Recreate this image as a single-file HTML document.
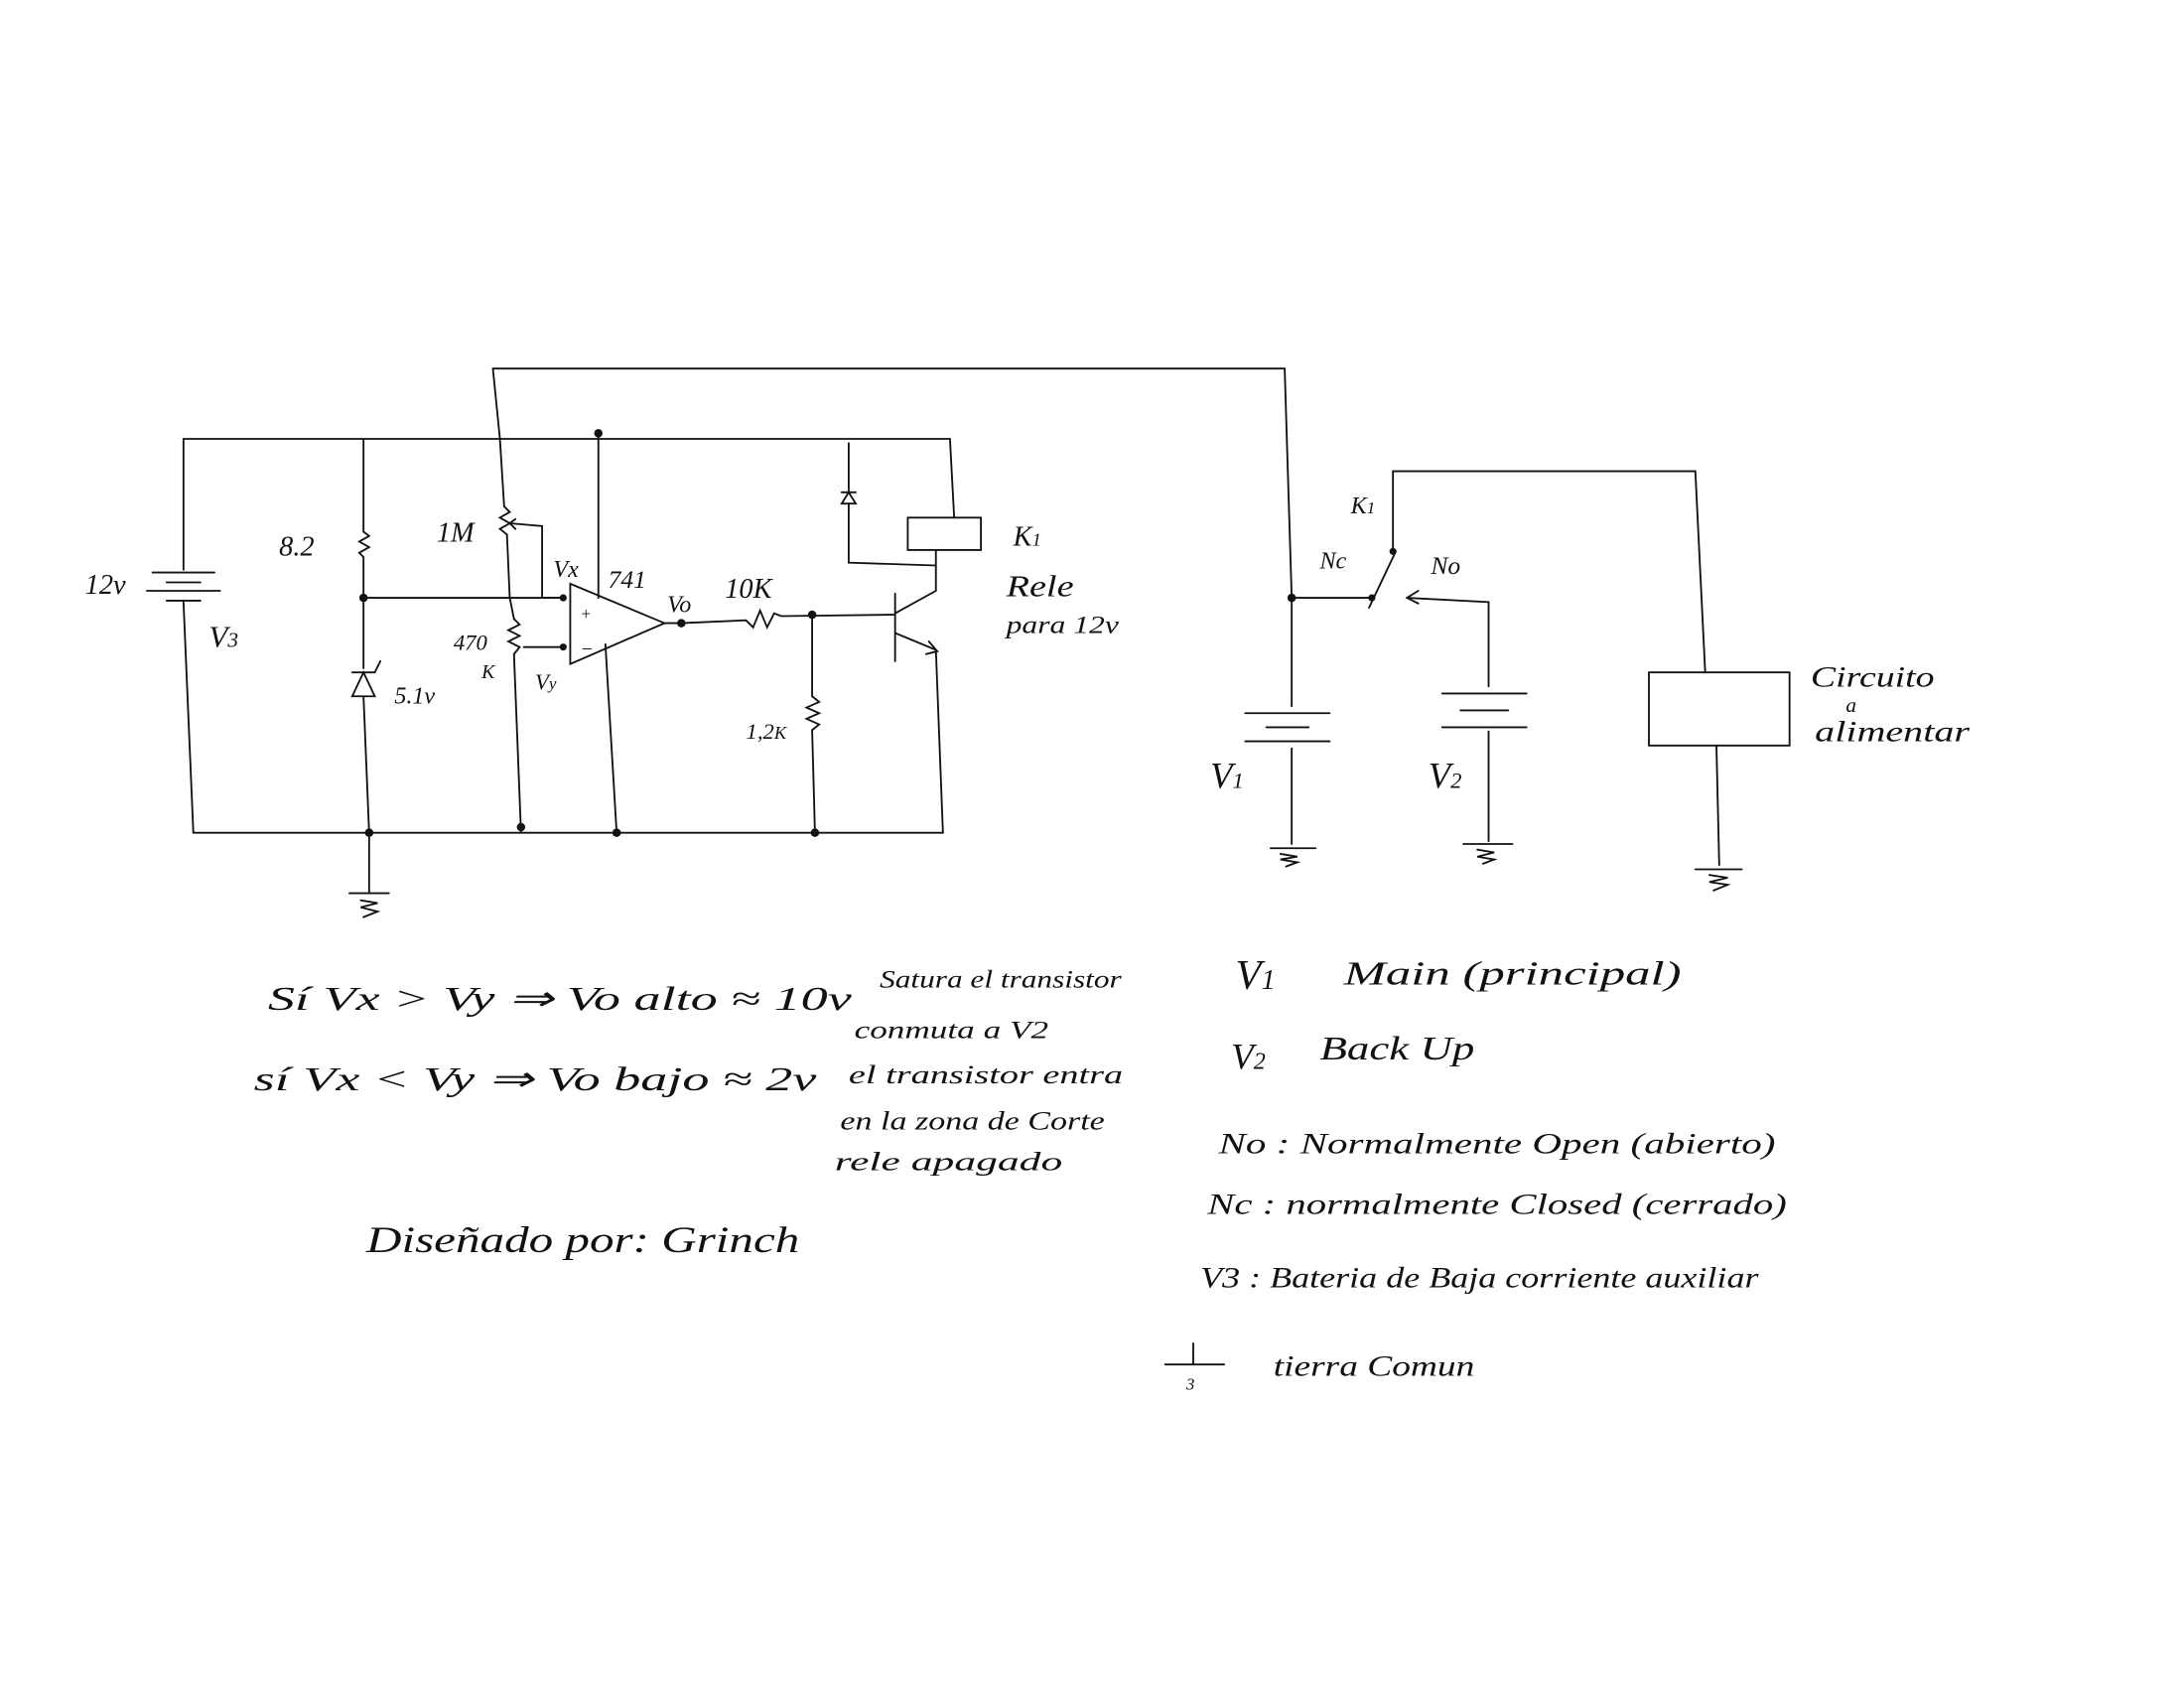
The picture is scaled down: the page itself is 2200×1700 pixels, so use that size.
<!DOCTYPE html>
<html><head><meta charset="utf-8"><style>
html,body{margin:0;padding:0;background:#fff}
svg{display:block}
text{font-family:"Liberation Serif",serif;font-style:italic;fill:#111}
</style></head><body>
<svg width="2200" height="1700" viewBox="0 0 1552 1200" xmlns="http://www.w3.org/2000/svg">
<g stroke="#111" stroke-width="1.3" fill="none" stroke-linecap="round">
<polyline points="350,262 913,262 918,425"/>
<polyline points="130,312 675,312"/>
<polyline points="137,592 670,592"/>
<line x1="130" y1="312" x2="130" y2="405"/>
<line x1="130" y1="428" x2="137" y2="592"/>
<line x1="108" y1="407" x2="152" y2="407"/><line x1="118" y1="414" x2="142" y2="414"/>
<line x1="104" y1="420" x2="156" y2="420"/><line x1="118" y1="427" x2="142" y2="427"/>
<line x1="258" y1="312" x2="258" y2="378"/>
<polyline points="258,378 262,381 255,385 262,389 255,393 258,396"/>
<line x1="258" y1="396" x2="258" y2="475"/>
<polygon points="250,495 266,495 258,478"/><line x1="250" y1="478" x2="266" y2="478"/><line x1="266" y1="478" x2="270" y2="470"/>
<line x1="258" y1="495" x2="262" y2="592"/>
<line x1="258" y1="425" x2="400" y2="425"/>
<line x1="262" y1="592" x2="262" y2="635"/>
<line x1="248" y1="635" x2="276" y2="635"/>
<polyline points="256,640 268,642 256,645 268,648 258,652"/>
<polyline points="350,262 355,312 358,360"/>
<polyline points="358,360 362,364 355,368 362,372 355,376 360,380"/>
<polyline points="360,380 362,425 365,440"/>
<polyline points="362,372 385,374 385,425 400,425"/>
<polyline points="366,369 362,372 366,376"/>
<polyline points="365,440 369,444 361,448 369,452 361,456 369,460 365,465"/>
<line x1="365" y1="465" x2="370" y2="592"/>
<line x1="372" y1="460" x2="400" y2="460"/>
<polygon points="405,415 405,472 472,443"/>
<line x1="425" y1="308" x2="425" y2="425"/>
<line x1="430" y1="458" x2="438" y2="592"/>
<line x1="472" y1="443" x2="484" y2="443"/>
<polyline points="484,443 530,441 535,446 540,434 545,446 550,436 555,438 635,437"/>
<line x1="577" y1="437" x2="577" y2="495"/>
<polyline points="577,495 582,499 573,503 582,507 573,511 582,515 577,519"/>
<line x1="577" y1="519" x2="579" y2="592"/>
<line x1="636" y1="422" x2="636" y2="470"/>
<polyline points="636,436 665,420 665,405"/>
<polyline points="636,450 665,462 670,592"/>
<polyline points="660,456 666,463 658,465"/>
<line x1="675" y1="312" x2="678" y2="368"/>
<rect x="645" y="368" width="52" height="23"/>
<line x1="665" y1="391" x2="665" y2="405"/>
<polyline points="603,315 603,350"/>
<polygon points="598,358 608,358 603,350"/><line x1="598" y1="350" x2="608" y2="350"/>
<polyline points="603,358 603,400 665,402"/>
<line x1="918" y1="425" x2="918" y2="502"/>
<line x1="885" y1="507" x2="945" y2="507"/><line x1="900" y1="517" x2="930" y2="517"/><line x1="885" y1="527" x2="945" y2="527"/>
<line x1="918" y1="532" x2="918" y2="600"/>
<line x1="903" y1="603" x2="935" y2="603"/>
<polyline points="910,607 922,609 910,611 922,613 914,616"/>
<line x1="918" y1="425" x2="975" y2="425"/>
<line x1="973" y1="432" x2="992" y2="392"/>
<polyline points="990,392 990,335 1205,335 1212,478"/>
<rect x="1172" y="478" width="100" height="52"/>
<line x1="1220" y1="530" x2="1222" y2="615"/>
<line x1="1205" y1="618" x2="1238" y2="618"/>
<polyline points="1215,622 1228,624 1215,627 1228,629 1218,633"/>
<polyline points="1000,425 1058,428 1058,488"/>
<polyline points="1008,420 1000,425 1008,429"/>
<line x1="1025" y1="493" x2="1085" y2="493"/><line x1="1038" y1="505" x2="1072" y2="505"/><line x1="1025" y1="517" x2="1085" y2="517"/>
<line x1="1058" y1="520" x2="1058" y2="598"/>
<line x1="1040" y1="600" x2="1075" y2="600"/>
<polyline points="1050,604 1062,606 1050,609 1062,611 1054,614"/>
<line x1="848" y1="955" x2="848" y2="970"/><line x1="828" y1="970" x2="870" y2="970"/>
</g>
<g fill="#111">
<circle cx="425" cy="308" r="3"/><circle cx="258" cy="425" r="3"/><circle cx="262" cy="592" r="3"/>
<circle cx="370" cy="588" r="3"/><circle cx="438" cy="592" r="3"/><circle cx="577" cy="437" r="3"/>
<circle cx="579" cy="592" r="3"/><circle cx="484" cy="443" r="3"/><circle cx="400" cy="425" r="2.5"/>
<circle cx="400" cy="460" r="2.5"/><circle cx="918" cy="425" r="3"/><circle cx="975" cy="425" r="2.5"/><circle cx="990" cy="392" r="2.5"/>
</g>
<g lengthAdjust="spacingAndGlyphs">
<text x="60" y="422" font-size="20">12v</text>
<text x="148" y="460" font-size="22">V<tspan font-size="15">3</tspan></text>
<text x="198" y="395" font-size="20">8.2</text>
<text x="280" y="500" font-size="17">5.1v</text>
<text x="310" y="385" font-size="20">1M</text>
<text x="322" y="462" font-size="16">470</text>
<text x="342" y="482" font-size="14">K</text>
<text x="380" y="490" font-size="16">V<tspan font-size="12">y</tspan></text>
<text x="393" y="410" font-size="17">Vx</text>
<text x="432" y="418" font-size="18">741</text>
<text x="412" y="440" font-size="12">+</text>
<text x="412" y="466" font-size="14">−</text>
<text x="474" y="435" font-size="17">Vo</text>
<text x="515" y="425" font-size="20">10K</text>
<text x="530" y="525" font-size="16">1,2<tspan font-size="13">K</tspan></text>
<text x="720" y="388" font-size="20">K<tspan font-size="13">1</tspan></text>
<text x="715" y="424" font-size="22" textLength="48" lengthAdjust="spacingAndGlyphs">Rele</text>
<text x="715" y="450" font-size="18" textLength="80" lengthAdjust="spacingAndGlyphs">para 12v</text>
<text x="960" y="365" font-size="17">K<tspan font-size="12">1</tspan></text>
<text x="938" y="404" font-size="17">Nc</text>
<text x="1017" y="408" font-size="18">No</text>
<text x="860" y="560" font-size="26">V<tspan font-size="16">1</tspan></text>
<text x="1015" y="560" font-size="26">V<tspan font-size="16">2</tspan></text>
<text x="1287" y="488" font-size="21" textLength="88" lengthAdjust="spacingAndGlyphs">Circuito</text>
<text x="1312" y="506" font-size="15">a</text>
<text x="1290" y="527" font-size="21" textLength="110" lengthAdjust="spacingAndGlyphs">alimentar</text>
<text x="190" y="718" font-size="24" textLength="415" lengthAdjust="spacingAndGlyphs">Sí   Vx &gt; Vy  ⇒  Vo   alto ≈ 10v</text>
<text x="625" y="702" font-size="18" textLength="172" lengthAdjust="spacingAndGlyphs">Satura el transistor</text>
<text x="607" y="738" font-size="18" textLength="138" lengthAdjust="spacingAndGlyphs">conmuta a  V2</text>
<text x="180" y="775" font-size="24" textLength="400" lengthAdjust="spacingAndGlyphs">sí   Vx &lt; Vy  ⇒  Vo   bajo ≈ 2v</text>
<text x="603" y="770" font-size="19" textLength="195" lengthAdjust="spacingAndGlyphs">el transistor entra</text>
<text x="597" y="803" font-size="19" textLength="188" lengthAdjust="spacingAndGlyphs">en la zona de Corte</text>
<text x="593" y="832" font-size="19" textLength="162" lengthAdjust="spacingAndGlyphs">rele  apagado</text>
<text x="260" y="890" font-size="26" textLength="308" lengthAdjust="spacingAndGlyphs">Diseñado por:   Grinch</text>
<text x="878" y="703" font-size="30">V<tspan font-size="20">1</tspan></text>
<text x="955" y="700" font-size="24" textLength="240" lengthAdjust="spacingAndGlyphs">Main  (principal)</text>
<text x="875" y="760" font-size="26">V<tspan font-size="17">2</tspan></text>
<text x="938" y="753" font-size="24" textLength="110" lengthAdjust="spacingAndGlyphs">Back Up</text>
<text x="866" y="820" font-size="21" textLength="396" lengthAdjust="spacingAndGlyphs">No  : Normalmente  Open  (abierto)</text>
<text x="858" y="863" font-size="21" textLength="412" lengthAdjust="spacingAndGlyphs">Nc : normalmente  Closed  (cerrado)</text>
<text x="853" y="915" font-size="21" textLength="397" lengthAdjust="spacingAndGlyphs">V3 : Bateria  de Baja corriente  auxiliar</text>
<text x="843" y="988" font-size="12">3</text>
<text x="905" y="978" font-size="21" textLength="143" lengthAdjust="spacingAndGlyphs">tierra Comun</text>
</g>
</svg>
</body></html>
